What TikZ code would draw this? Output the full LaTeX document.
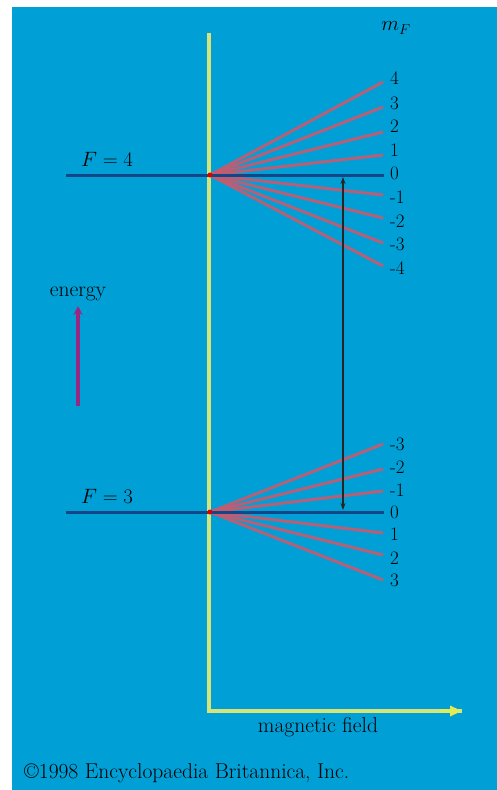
\documentclass[tikz,border=0pt]{standalone}
\usetikzlibrary{arrows.meta}
\definecolor{bgblue}{RGB}{0,160,214}
\definecolor{navy}{RGB}{20,70,135}
\definecolor{axisy}{RGB}{215,228,120}
\definecolor{fanred}{RGB}{200,90,110}
\definecolor{arrowpurple}{RGB}{150,40,130}
\tikzset{
  level/.style={navy, line width=3pt},
  fan/.style={fanred, line width=3pt, opacity=0.9},
  axis/.style={axisy, line width=3.5pt},
  lbl/.style={font=\fontsize{19}{19}\selectfont, inner sep=0pt, anchor=west},
  txt/.style={font=\fontsize{21.5}{24}\selectfont, inner sep=0pt},
}
\begin{document}
\begin{tikzpicture}[x=1pt,y=-1pt]
\useasboundingbox (0,0) rectangle (497,790);
\fill[white] (0,0) rectangle (497,790);
\fill[bgblue] (12,7) rectangle (497,790);
% axes
\coordinate (ytop) at (209,33);
\coordinate (corner) at (209,711);
\coordinate (xend) at (462,711);
\draw[axis] (ytop) -- (corner) -- (xend);
\draw[axisy!70!yellow, -{Triangle[length=12pt,width=10pt]}, line width=3.5pt] (440,711) -- (xend);
% levels
\coordinate (o4) at (210,175);
\coordinate (o3) at (210,512);
\coordinate (l4) at (66,175);
\coordinate (l3) at (66,512);
% F=4 fan
\foreach \m/\y/\ty in {4/82/78,3/107/103,2/132/126,1/155/150,-1/195/197,-2/218/221,-3/243/244.5,-4/266/268}{
  \coordinate (e4\m) at (383,\y);
  \draw[fan] (o4) -- (e4\m);
  \node[lbl] (t4\m) at (390,\ty) {\m};
}
\foreach \m/\y/\ty in {-3/444/444,-2/469/467.5,-1/491/490.5,1/533/534.5,2/555/558,3/580/580.5}{
  \coordinate (e3\m) at (383,\y);
  \draw[fan] (o3) -- (e3\m);
  \node[lbl] (t3\m) at (390,\ty) {\m};
}
\coordinate (e40) at (384,175);
\coordinate (e30) at (384,512);
\draw[level] (l4) -- (e40);
\draw[level] (l3) -- (e30);
\node[lbl] (t40) at (390,173.5) {0};
\node[lbl] (t30) at (390,512) {0};
\fill[red!85!black] (o4) circle (2.5pt);
\fill[red!85!black] (o3) circle (2.5pt);
% labels
\node[txt] (F4) at (107,159) {$F = 4$};
\node[txt] (F3) at (107,496) {$F = 3$};
\node[txt] (mF) at (396,28) {$m_F$};
% transition arrow
\coordinate (a4) at (343,177);
\coordinate (a3) at (343,510);
\draw[black!85, line width=1.1pt, {Stealth[length=7pt,width=5pt]}-{Stealth[length=7pt,width=5pt]}] (a4) -- (a3);
% energy
\node[txt] (en) at (78,294) {energy};
\coordinate (eb) at (78,406);
\coordinate (et) at (78,306);
\draw[arrowpurple, line width=3.5pt, -{Stealth[length=9pt,width=9pt]}] (eb) -- (et);
% axis label and credit
\node[txt] (mag) at (318,727) {magnetic field};
\node[txt, anchor=west] (cr) at (24,773) {\textcopyright1998 Encyclopaedia Britannica, Inc.};
\end{tikzpicture}
\end{document}
